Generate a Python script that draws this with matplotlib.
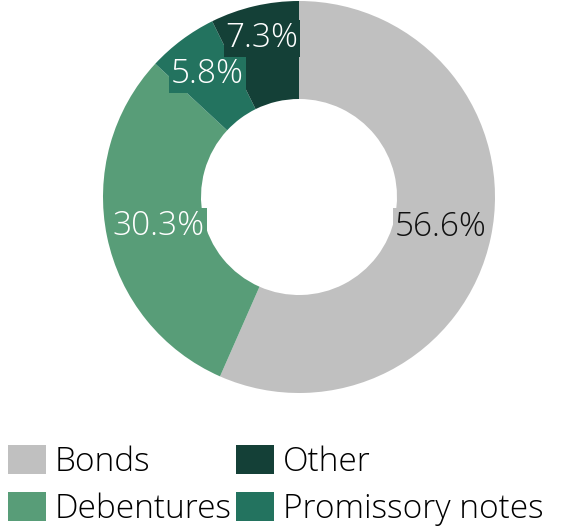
import numpy as np
import matplotlib
matplotlib.use('Agg')
import matplotlib.pyplot as plt
from matplotlib.patches import Patch

plt.rcParams['font.family'] = ['Open Sans', 'DejaVu Sans']

categorias = ["Bonds", "Debentures", "Promissory notes", "Other"]
valores = [56.6, 30.3, 5.8, 7.3]
colores = ["#c0c0c0", "#589d78", "#23735f", "#144037"]
color_texto = ["#111111", "white", "white", "white"]
# distancia radial de cada etiqueta (fraccion del radio)
dist_etiqueta = [0.74, 0.73, 0.78, 0.83]

fig = plt.figure(figsize=(5.79, 5.26), dpi=100)
ax = fig.add_axes([(299 - 196) / 579, 1 - (197 + 196) / 526, 392 / 579, 392 / 526])

wedges, _ = ax.pie(valores, colors=colores, startangle=90, counterclock=False,
                   radius=1.0, wedgeprops=dict(width=0.5, linewidth=0))
ax.set_xlim(-1, 1)
ax.set_ylim(-1, 1)
ax.set_aspect('equal')

for w, v, c, tc, d in zip(wedges, valores, colores, color_texto, dist_etiqueta):
    ang = np.deg2rad((w.theta1 + w.theta2) / 2)
    ax.text(d * np.cos(ang), d * np.sin(ang), f"{v}%", ha='center', va='center',
            fontsize=24, fontweight='light', color=tc,
            bbox=dict(boxstyle='square,pad=0.05', facecolor=c, edgecolor='none'))

orden = [0, 1, 3, 2]
handles = [Patch(facecolor=colores[i], edgecolor='none', label=categorias[i]) for i in orden]
fig.legend(handles=handles, ncol=2, loc='lower left',
           bbox_to_anchor=(8 / 579, 0 / 526), borderpad=0, borderaxespad=0,
           frameon=False, prop=dict(size=24, weight='light'),
           handlelength=1.14, handleheight=0.96,
           handletextpad=0.25, columnspacing=0.15, labelspacing=0.4)

plt.savefig("out.png", dpi=100)
